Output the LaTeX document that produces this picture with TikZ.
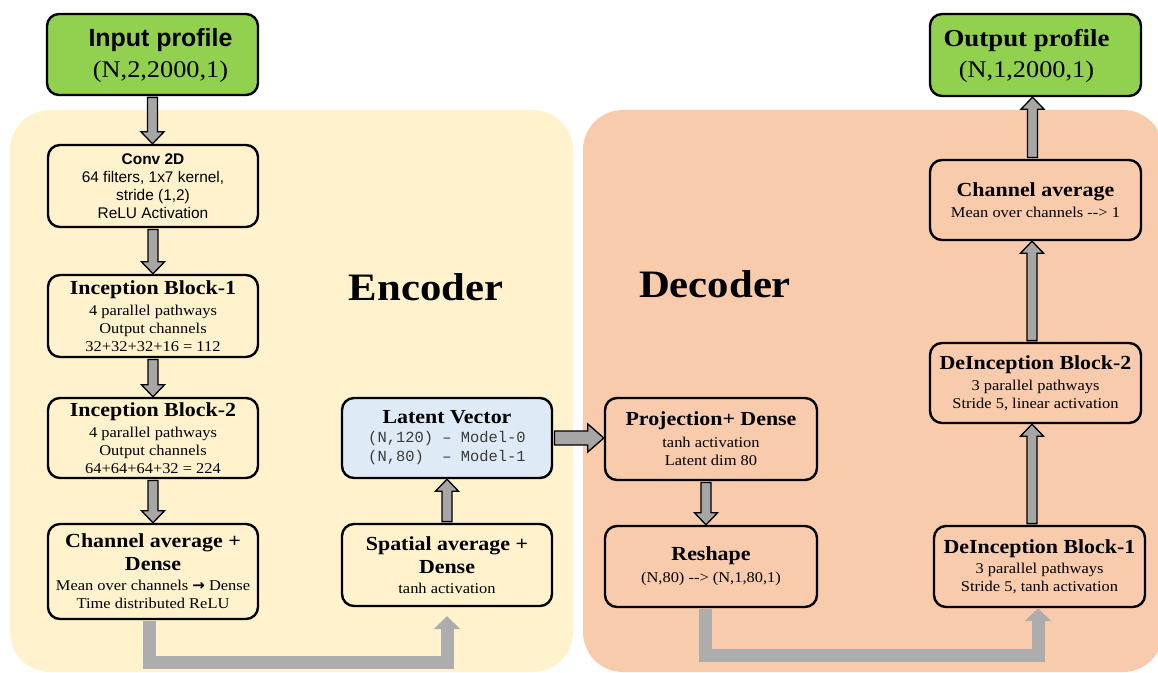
\documentclass[tikz,border=0pt]{standalone}
\usepackage{fontspec}
\setmainfont{Liberation Serif}[FakeStretch=1.1]
\newfontfamily\sansf{Liberation Sans}
\newfontfamily\monof{Liberation Mono}
\newfontfamily\symf{DejaVu Sans}
\usetikzlibrary{arrows.meta,calc}

\definecolor{encbg}{HTML}{FFF2CC}
\definecolor{decbg}{HTML}{F8CBAD}
\definecolor{inout}{HTML}{92D050}
\definecolor{latentbg}{HTML}{DEEBF7}
\definecolor{arrgray}{HTML}{A6A6A6}
\definecolor{flowgray}{HTML}{ADADAD}
\definecolor{monotext}{HTML}{3A3A3A}

% outlined block arrows between named anchors
\newcommand\downarr[2]{%
  \draw[blockarr] let \p1=(#1), \p2=(#2) in
    (\x1-5bp,\y1) -- (\x1-5bp,\y2+12bp) -- (\x1-11.5bp,\y2+12bp) -- (\x1,\y2)
    -- (\x1+11.5bp,\y2+12bp) -- (\x1+5bp,\y2+12bp) -- (\x1+5bp,\y1) -- cycle;}
\newcommand\uparr[2]{%
  \draw[blockarr] let \p1=(#1), \p2=(#2) in
    (\x1-5bp,\y1) -- (\x1-5bp,\y2-12bp) -- (\x1-11.5bp,\y2-12bp) -- (\x1,\y2)
    -- (\x1+11.5bp,\y2-12bp) -- (\x1+5bp,\y2-12bp) -- (\x1+5bp,\y1) -- cycle;}
\newcommand\rightarr[2]{%
  \draw[blockarr] let \p1=(#1), \p2=(#2) in
    (\x1,\y1-7bp) -- (\x2-16bp,\y1-7bp) -- (\x2-16bp,\y1-14bp) -- (\x2,\y1)
    -- (\x2-16bp,\y1+14bp) -- (\x2-16bp,\y1+7bp) -- (\x1,\y1+7bp) -- cycle;}

\newcommand\ttl[1]{{\fontsize{20}{22}\selectfont\bfseries #1}}
\newcommand\monoline[1]{{\monof\color{monotext}\fontsize{15.5}{19}\selectfont #1}}

\begin{document}
\begin{tikzpicture}[x=1bp,y=-1bp,
  nodebox/.style={draw=black, line width=2.4bp, rounded corners=12bp, inner sep=0pt,
    align=center, text=black, font=\fontsize{15}{18}\selectfont},
  encfill/.style={fill=encbg},
  decfill/.style={fill=decbg},
  profiletext/.style={align=center, inner sep=0pt, font=\fontsize{24}{31}\selectfont},
  blockarr/.style={fill=arrgray, draw=black, line width=1.3bp, line join=miter},
  flowline/.style={draw=flowgray, line width=13bp, line join=miter,
    -{Triangle[width=26bp,length=13bp]}},
  section/.style={font=\fontsize{39}{44}\selectfont\bfseries}
]
\useasboundingbox (0,0) rectangle (1158,673);

% panels
\fill[encbg, rounded corners=40bp] (10,110) rectangle (573,672);
\fill[decbg, rounded corners=40bp] (583,110) rectangle (1163,672);

\node[section] (enclabel) at (426,287) {Encoder};
\node[section] (declabel) at (715,284) {Decoder};

% encoder column
\node[nodebox, fill=inout, minimum width=211bp, minimum height=81bp] (input) at (152.5,54.5) {};
\node[profiletext] (inputtxt) at ([xshift=8bp,yshift=-1bp]input.center)
  {{\sansf\bfseries\fontsize{25}{30}\selectfont Input profile}\\(N,2,2000,1)};

\node[nodebox, encfill, minimum width=210bp, minimum height=82bp, font=\sansf\fontsize{15.5}{18}\selectfont] (conv) at (153,186)
  {\textbf{Conv 2D}\\64 filters, 1x7 kernel,\\stride (1,2)\\ReLU Activation};

\node[nodebox, encfill, minimum width=210bp, minimum height=82bp] (inc1) at (153,316)
  {\ttl{Inception Block-1}\\[3pt]4 parallel pathways\\Output channels\\32+32+32+16 = 112};

\node[nodebox, encfill, minimum width=210bp, minimum height=80bp] (inc2) at (153,438)
  {\ttl{Inception Block-2}\\[3pt]4 parallel pathways\\Output channels\\64+64+64+32 = 224};

\node[nodebox, encfill, minimum width=210bp, minimum height=95bp] (chd) at (153,571.5)
  {\ttl{Channel average +}\\[5pt]\ttl{Dense}\\[2pt]Mean over channels {\symf\bfseries\fontsize{15}{18}\selectfont →} Dense\\Time distributed ReLU};

\node[nodebox, fill=latentbg, minimum width=210bp, minimum height=80bp] (latent) at (447,438)
  {\ttl{Latent Vector}\\[1pt]\monoline{(N,120) – Model-0}\\[1pt]\monoline{(N,80)\ \ – Model-1}};

\node[nodebox, encfill, minimum width=210bp, minimum height=82bp] (spatial) at (447,565)
  {\ttl{Spatial average +}\\[5pt]\ttl{Dense}\\[2pt]tanh activation};

% decoder column
\node[nodebox, decfill, minimum width=212bp, minimum height=82bp] (proj) at (711,439)
  {\ttl{Projection+ Dense}\\[4pt]tanh activation\\Latent dim 80};

\node[nodebox, decfill, minimum width=212bp, minimum height=81bp] (reshape) at (711,566.5)
  {\ttl{Reshape}\\[4pt](N,80) -{}-> (N,1,80,1)};

\node[nodebox, decfill, minimum width=211bp, minimum height=81bp] (deinc1) at (1039.5,566.5)
  {\ttl{DeInception Block-1}\\[2pt]3 parallel pathways\\Stride 5, tanh activation};

\node[nodebox, decfill, minimum width=211bp, minimum height=80bp] (deinc2) at (1035.5,383)
  {\ttl{DeInception Block-2}\\[3pt]3 parallel pathways\\Stride 5, linear activation};

\node[nodebox, decfill, minimum width=211bp, minimum height=80bp] (chavg) at (1035.5,200)
  {\ttl{Channel average}\\[3pt]Mean over channels -{}-> 1};

\node[nodebox, fill=inout, minimum width=211bp, minimum height=82bp] (output) at (1035.5,55) {};
\node[profiletext] (outputtxt) at ([xshift=-9bp,yshift=-1bp]output.center)
  {{\bfseries\fontsize{24.5}{28}\selectfont Output profile}\\(N,1,2000,1)};

% flow arrows
\downarr{[yshift=-1.2bp]input.south}{conv.north}
\downarr{[yshift=-1.2bp]conv.south}{inc1.north}
\downarr{[yshift=-1.2bp]inc1.south}{inc2.north}
\downarr{[yshift=-1.2bp]inc2.south}{chd.north}
\uparr{[yshift=1.2bp]spatial.north}{latent.south}
\rightarr{[xshift=1.2bp]latent.east}{proj.west}
\downarr{[xshift=-5bp,yshift=-1.2bp]proj.south}{reshape.north}
\uparr{[xshift=-7.5bp,yshift=1.2bp]deinc1.north}{deinc2.south}
\uparr{[xshift=-3.5bp,yshift=1.2bp]deinc2.north}{chavg.south}
\uparr{[xshift=-3bp,yshift=1.2bp]chavg.north}{output.south}

\draw[flowline] ([xshift=-4bp,yshift=-1.2bp]chd.south) -- ++(0,41) -| ([yshift=-9bp]spatial.south);
\draw[flowline] ([xshift=-6bp,yshift=-1.2bp]reshape.south) -- ++(0,46) -| ([xshift=-1.5bp]deinc1.south);
\end{tikzpicture}
\end{document}
